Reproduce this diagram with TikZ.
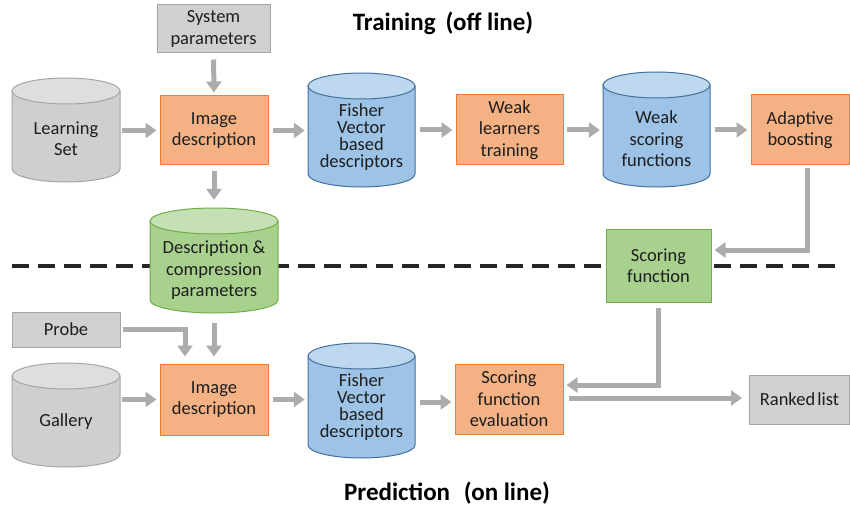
\documentclass[tikz,border=0pt]{standalone}
\usepackage{fontspec}
\setmainfont{Carlito}
\usetikzlibrary{arrows.meta,fit,calc}

\definecolor{txt}{HTML}{1E1E1E}
\definecolor{orFill}{HTML}{F4B183}
\definecolor{orLine}{HTML}{ED7D31}
\definecolor{grFill}{HTML}{D0CFD1}
\definecolor{grLine}{HTML}{A5A5A5}
\definecolor{greyBody}{HTML}{CFCFD1}
\definecolor{greyTop}{HTML}{DDDEE0}
\definecolor{greyLine}{HTML}{A5A5A5}
\definecolor{blueBody}{HTML}{9DC3E6}
\definecolor{blueTop}{HTML}{BDD7EE}
\definecolor{blueLine}{HTML}{41719C}
\definecolor{greenBody}{HTML}{A9D18E}
\definecolor{greenTop}{HTML}{C5E0B4}
\definecolor{greenLine}{HTML}{70AD47}
\definecolor{arr}{HTML}{AEABAB}

\tikzset{
  box/.style={draw, line width=1pt, inner sep=0pt, align=center,
    font=\fontsize{18.5}{21.5}\selectfont, text=txt},
  procbox/.style={box, fill=orFill, draw=orLine},
  greybox/.style={box, fill=grFill, draw=grLine},
  greenbox/.style={box, fill=greenBody, draw=greenLine},
  cyltext/.style={inner sep=0pt, align=center, text=txt,
    font=\fontsize{18.5}{21.5}\selectfont},
  fvtext/.style={cyltext, font=\fontsize{18.5}{17}\selectfont},
  title/.style={inner sep=0pt, text=black, font=\fontsize{25}{29}\bfseries},
  flow/.style={draw=arr, line width=5pt, -{Triangle[length=11pt,width=15pt]}},
}

% storage drum: name, left, right, top, bottom, colour family
\newcommand\drum[6]{%
  \node[fit={(#2,#4)(#3,#5)}, inner sep=0pt] (#1) {};
  \pgfmathsetmacro\drumrx{(#3-#2)/2}
  \pgfmathsetmacro\drumcx{(#3+#2)/2}
  \filldraw[fill=#6Body, draw=#6Line, line width=1pt]
    (#2,#4+13) -- (#2,#5-13)
    arc[start angle=180, end angle=0, x radius=\drumrx, y radius=13]
    -- (#3,#4+13) -- cycle;
  \filldraw[fill=#6Top, draw=#6Line, line width=1pt]
    (\drumcx,#4+13) ellipse[x radius=\drumrx, y radius=13];
}

\begin{document}
\begin{tikzpicture}[x={(1pt,0)}, y={(0,-1pt)}]
\useasboundingbox (0,0) rectangle (850,505);

% boundary between the off-line and on-line phases
\coordinate (sepL) at (12,266);
\coordinate (sepR) at (840,266);
\draw[black!85, line width=4pt, dash pattern=on 17pt off 9pt] (sepL) -- (sepR);

% titles
\node[title] (ttrain) at (443,23) {Training\hspace{0.4em}(off line)};
\node[title] (tpred) at (447,493) {Prediction\hspace{0.55em}(on line)};

% ---- training ----
\node[greybox, minimum width=113pt, minimum height=48pt] (sys) at (213.5,29) {System\\parameters};
\drum{ls}{12}{120}{78}{182}{grey}
\node[cyltext] (lsT) at (66,138.5) {Learning\\Set};
\node[procbox, minimum width=108pt, minimum height=69pt] (img1) at (214,130.5) {Image\\description};
\drum{fv1}{308}{415}{73}{187}{blue}
\node[fvtext] (fv1T) at (361.5,137) {Fisher\\Vector\\based\\descriptors};
\node[procbox, minimum width=107pt, minimum height=70pt] (wlt) at (509.5,130) {Weak\\learners\\training};
\drum{wsf}{603}{710}{72}{187}{blue}
\node[cyltext] (wsfT) at (656.5,139) {Weak\\scoring\\functions};
\node[procbox, minimum width=98pt, minimum height=70pt] (ada) at (800,130) {Adaptive\\boosting};
\drum{dcp}{150}{278}{208}{313}{green}
\node[cyltext] (dcpT) at (214,270.5) {Description \&\\compression\\parameters};
\node[greenbox, minimum width=105pt, minimum height=73pt] (scf) at (658.5,265.5) {Scoring\\function};

% ---- prediction ----
\node[greybox, minimum width=108pt, minimum height=35pt] (probe) at (66,329.5) {Probe};
\drum{gal}{12}{120}{363}{467}{grey}
\node[cyltext] (galT) at (66,422) {Gallery};
\node[procbox, minimum width=108pt, minimum height=71pt] (img2) at (214,399.5) {Image\\description};
\drum{fv2}{308}{415}{343}{458}{blue}
\node[fvtext] (fv2T) at (361.5,407.5) {Fisher\\Vector\\based\\descriptors};
\node[procbox, minimum width=108pt, minimum height=70pt] (sfe) at (509,399) {Scoring\\function\\evaluation};
\node[greybox, minimum width=100pt, minimum height=49pt] (rank) at (799.5,399.5) {Ranked\hspace{0.12em}list};

% ---- connectors ----
\draw[flow, shorten <=2pt, shorten >=3pt] (ls.east |- img1.west) -- (img1.west);
\draw[flow, shorten <=6pt, shorten >=3pt] (sys.south) -- (img1.north);
\draw[flow, shorten <=4pt, shorten >=3pt] (img1.east) -- (fv1.west |- img1.east);
\draw[flow, shorten <=5pt, shorten >=3pt] (fv1.east |- wlt.west) -- (wlt.west);
\draw[flow, shorten <=3pt, shorten >=3pt] (wlt.east) -- (wsf.west |- wlt.east);
\draw[flow, shorten <=5pt, shorten >=3pt] (wsf.east |- ada.west) -- (ada.west);
\draw[flow, shorten <=2pt, shorten >=3pt] ([xshift=7pt]ada.south) |- ([yshift=15.5pt]scf.east);
\draw[flow, shorten <=5pt, shorten >=8pt] (img1.south) -- (dcp.north);

\draw[flow, shorten <=10pt, shorten >=7pt] (dcp.south) -- (img2.north);
\draw[flow, shorten <=2pt, shorten >=7pt] (probe.east) -| ([xshift=-29pt]img2.north);
\draw[flow, shorten <=2pt, shorten >=3pt] (gal.east |- img2.west) -- (img2.west);
\draw[flow, shorten <=4pt, shorten >=3pt] (img2.east) -- (fv2.west |- img2.east);
\draw[flow, shorten <=5pt, shorten >=3pt] ([yshift=-3pt]fv2.east |- sfe.west) -- ([yshift=-3pt]sfe.west);
\draw[flow, shorten <=5pt, shorten >=3pt] (scf.south) |- ([yshift=14pt]sfe.east);
\draw[flow, shorten <=5pt, shorten >=7pt] ([yshift=1pt]sfe.east) -- ([yshift=1pt]sfe.east -| rank.west);
\end{tikzpicture}
\end{document}
